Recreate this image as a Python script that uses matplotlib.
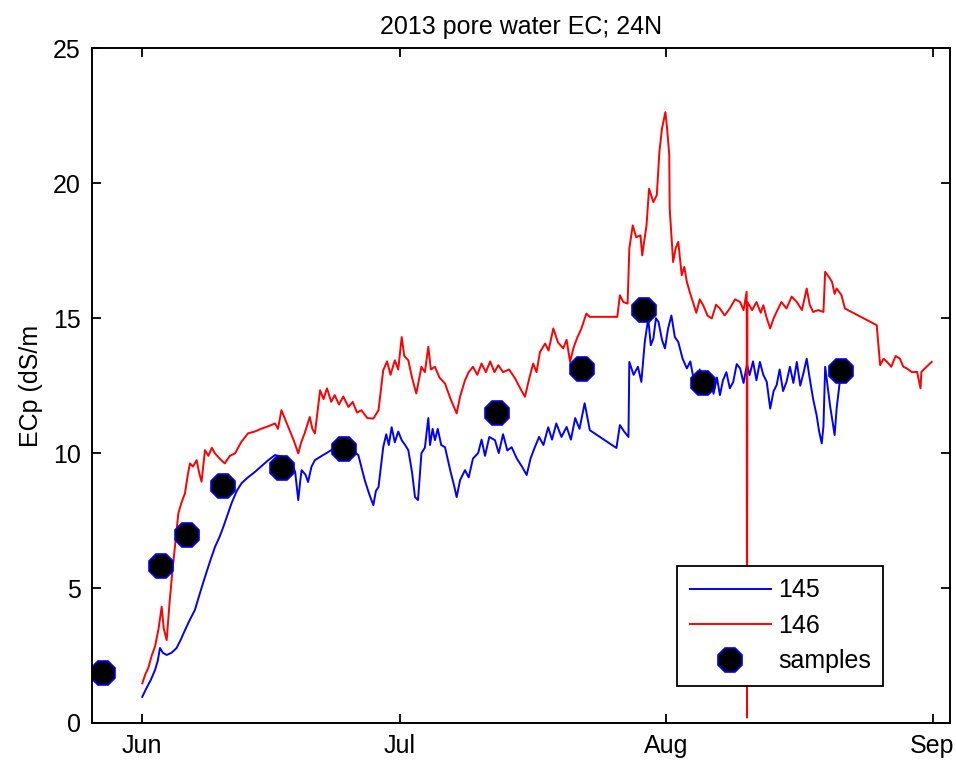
import numpy as np
import matplotlib
matplotlib.use("Agg")
import matplotlib.pyplot as plt

# ---- data (days after 2013-06-01, EC in dS/m) ----
days_145 = [0.0, 0.5, 1.0, 1.48, 1.8, 2.06, 2.4, 2.84, 3.4, 4.0, 4.5, 4.97, 5.5, 6.13, 6.7, 7.3, 7.9, 8.46,
            9.0, 9.43, 10.4, 11.0, 11.57, 12.3, 13.1, 14.0, 14.67, 15.45, 16.5, 17.4, 17.8, 18.16, 18.4, 18.55,
            19.0, 19.3, 19.7, 20.1, 20.9, 21.65, 22.4, 23.2, 24.2, 25.15, 25.5, 25.9, 26.4, 26.9, 27.2, 27.5,
            28.05, 28.4, 28.7, 29.03, 29.4, 29.8, 30.2, 30.6, 30.97, 31.4, 31.75, 32.1, 32.5, 32.9, 33.3, 33.5,
            33.8, 34.07, 34.4, 34.8, 35.24, 35.9, 36.3, 36.6, 37.0, 37.57, 38.0, 38.5, 39.1, 39.5, 39.9, 40.4,
            41.06, 41.5, 42.0, 42.5, 43.0, 43.6, 44.2, 44.75, 45.2, 45.7, 46.2, 46.7, 47.26, 47.7, 48.2, 48.8,
            49.4, 49.9, 50.4, 50.9, 51.5, 52.1, 55.2, 55.6, 56.1, 56.6, 56.7, 57.2, 57.7, 58.1, 58.5, 58.9,
            59.2, 59.5, 59.8, 60.1, 60.5, 60.85, 61.2, 61.6, 62.0, 62.4, 62.9, 63.4, 63.8, 64.1, 64.5, 64.9,
            65.3, 65.7, 66.1, 66.5, 66.9, 67.25, 67.6, 68.0, 68.4, 68.8, 69.2, 69.6, 70.0, 70.4, 70.7, 71.1,
            71.5, 71.9, 72.3, 72.7, 73.1, 73.5, 73.85, 74.2, 74.6, 75.0, 75.4, 75.8, 76.2, 76.6, 77.0, 77.35,
            77.7, 78.1, 78.5, 78.8, 79.1, 79.3, 79.5, 80.06, 80.6, 80.84, 81.2, 81.3]
ec_145 = [0.97, 1.3, 1.6, 1.96, 2.3, 2.78, 2.6, 2.52, 2.6, 2.78, 3.1, 3.44, 3.8, 4.19, 4.8, 5.41, 6.0, 6.52,
          6.9, 7.26, 8.15, 8.6, 8.89, 9.1, 9.3, 9.55, 9.74, 9.93, 9.85, 9.63, 9.3, 8.26, 9.0, 9.37,
          9.2, 8.93, 9.5, 9.74, 9.9, 10.04, 10.2, 10.3, 10.15, 9.93, 9.5, 9.0, 8.5, 8.07, 8.6, 8.74,
          10.22, 10.7, 10.3, 10.96, 10.4, 10.8, 10.48, 10.3, 10.11, 9.3, 8.37, 8.26, 10.0, 10.2, 11.3, 10.3,
          10.9, 10.48, 10.9, 10.3, 10.22, 9.3, 8.8, 8.37, 9.0, 9.37, 9.1, 9.8, 10.0, 10.5, 9.9, 10.6,
          10.48, 10.0, 10.7, 10.1, 10.22, 9.8, 9.5, 9.19, 9.8, 10.22, 10.6, 10.3, 10.96, 10.5, 11.1, 10.6,
          10.97, 10.5, 11.3, 10.9, 11.85, 10.85, 10.19, 11.04, 10.8, 10.6, 13.38, 12.9, 13.2, 12.64, 14.12, 14.99,
          14.0, 14.25, 15.0, 14.86, 14.2, 13.88, 14.6, 15.1, 14.3, 14.12, 13.5, 13.14, 13.4, 12.89, 12.4, 13.1,
          12.5, 12.4, 12.9, 12.2, 12.8, 12.15, 12.7, 13.0, 12.4, 12.64, 13.3, 13.14, 12.6, 13.3, 12.89, 13.4,
          12.7, 13.38, 12.9, 12.64, 11.65, 12.3, 12.52, 13.1, 12.3, 12.64, 13.2, 12.6, 13.38, 12.5, 13.0, 13.5,
          12.77, 12.0, 11.41, 10.8, 10.36, 11.0, 13.2, 11.78, 10.67, 11.67, 12.64, 13.0]

days_146 = [0.0, 0.35, 0.7, 1.1, 1.48, 1.9, 2.26, 2.5, 2.84, 3.2, 3.5, 3.8, 4.2, 4.6, 4.97, 5.3, 5.55, 5.9,
            6.33, 6.6, 6.9, 7.3, 7.7, 8.1, 8.46, 9.0, 9.6, 10.2, 10.8, 11.5, 12.3, 13.1, 13.9, 14.7, 15.45,
            15.8, 16.2, 17.0, 17.6, 18.16, 18.5, 18.9, 19.5, 19.8, 20.1, 20.7, 21.1, 21.5, 22.0, 22.4, 22.9,
            23.4, 24.0, 24.5, 25.0, 25.5, 26.2, 26.9, 27.5, 28.05, 28.5, 28.9, 29.4, 29.8, 30.2, 30.5, 30.97,
            31.4, 31.9, 32.2, 32.5, 32.9, 33.3, 33.6, 34.07, 34.6, 35.24, 35.9, 36.6, 37.0, 37.57, 38.0, 38.5,
            39.0, 39.5, 40.0, 40.5, 41.0, 41.45, 42.0, 42.7, 43.4, 44.0, 44.55, 45.0, 45.5, 45.9, 46.3, 46.9,
            47.3, 47.85, 48.4, 49.0, 49.4, 49.8, 50.2, 50.6, 51.1, 51.7, 52.1, 55.3, 55.6, 56.0, 56.5, 56.7,
            57.1, 57.5, 58.0, 58.2, 58.7, 59.0, 59.5, 59.9, 60.2, 60.5, 60.9, 61.1, 61.35, 61.4, 61.8, 62.1,
            62.4, 62.8, 63.1, 63.4, 63.8, 64.1, 64.5, 64.9, 65.3, 65.8, 66.3, 66.8, 67.25, 67.8, 68.4, 69.0,
            69.6, 70.0, 70.36, 70.4, 70.45, 71.0, 71.5, 72.0, 72.3, 72.7, 73.1, 73.5, 73.85, 74.4, 75.0, 75.6,
            76.2, 76.8, 77.35, 77.7, 78.1, 78.7, 79.3, 79.5, 80.0, 80.3, 80.6, 80.84, 81.4, 81.8, 85.5, 85.9,
            86.3, 86.7, 87.2, 87.7, 88.2, 88.6, 89.0, 89.6, 90.2, 90.6, 90.7, 91.3, 91.9]
ec_146 = [1.47, 1.8, 2.04, 2.5, 2.83, 3.5, 4.31, 3.5, 3.07, 4.56, 5.6, 6.53, 7.77, 8.2, 8.51, 9.2, 9.62, 9.5,
          9.74, 9.3, 8.94, 10.11, 9.9, 10.2, 9.99, 9.8, 9.62, 9.9, 9.99, 10.4, 10.73, 10.8, 10.91, 11.0, 11.1,
          10.9, 11.59, 10.97, 10.5, 9.99, 10.4, 10.73, 11.34, 10.9, 10.73, 12.33, 12.0, 12.4, 11.9, 12.15, 11.8,
          12.1, 11.71, 11.9, 11.5, 11.59, 11.3, 11.28, 11.59, 13.07, 13.4, 12.9, 13.44, 13.1, 14.3, 13.6, 13.44,
          12.8, 12.21, 12.7, 13.2, 13.0, 13.94, 13.1, 13.2, 12.8, 12.58, 12.0, 11.47, 12.1, 12.7, 13.0, 13.2,
          12.9, 13.32, 13.0, 13.4, 13.0, 13.26, 13.0, 13.1, 12.77, 12.4, 12.09, 12.7, 13.32, 13.0, 13.75, 14.06,
          13.8, 14.62, 14.1, 13.88, 14.2, 13.38, 13.9, 14.25, 14.6, 15.17, 15.05, 15.05, 15.85, 15.6, 15.54, 17.58,
          18.44, 18.0, 18.07, 17.33, 18.44, 19.8, 19.3, 19.56, 21.16, 22.02, 22.64, 22.02, 21.04, 19.06, 17.08, 17.6,
          17.83, 16.59, 16.9, 16.34, 15.9, 15.6, 15.2, 15.7, 15.48, 15.1, 14.99, 15.5, 15.36, 15.1, 15.36, 15.7,
          15.6, 15.3, 15.98, 0.2, 15.6, 15.3, 15.6, 15.2, 15.48, 15.0, 14.62, 15.0, 15.23, 15.6, 15.36, 15.8,
          15.6, 15.3, 16.1, 15.5, 15.23, 15.3, 15.23, 16.72, 16.5, 16.34, 15.9, 16.1, 15.85, 15.36, 14.74, 13.26,
          13.5, 13.38, 13.2, 13.6, 13.5, 13.2, 13.14, 13.0, 13.01, 12.4, 13.01, 13.2, 13.38]

days_samples = [-4.6, 2.2, 5.2, 9.4, 16.3, 23.5, 41.3, 51.2, 58.4, 65.3, 81.4]
ec_samples = [1.85, 5.8, 6.96, 8.78, 9.44, 10.15, 11.5, 13.1, 15.3, 12.6, 13.04]

month_ticks = ["2013-06-01", "2013-07-01", "2013-08-01", "2013-09-01"]
month_labels = ["Jun", "Jul", "Aug", "Sep"]

base = np.datetime64("2013-06-01T00:00:00")


def to_dates(d):
    return base + (np.asarray(d) * 86400).round().astype("timedelta64[s]")


plt.rcParams["font.family"] = ["Liberation Sans", "DejaVu Sans"]
FS = 18

fig = plt.figure(figsize=(9.56, 7.6), dpi=100)
ax = fig.add_axes([0.0959, 0.0487, 0.8978, 0.8877])

ax.plot(to_dates(days_145), ec_145, color="#0000ff", lw=1.4, label="145")
ax.plot(to_dates(days_146), ec_146, color="#ff0000", lw=1.4, label="146")
ax.plot(to_dates(days_samples), ec_samples, linestyle="none", marker="8", ms=18,
        mfc="black", mec="#0000ff", mew=1.2, label="samples")

ax.set_xlim(to_dates([-5.89])[0], to_dates([94.03])[0])
ax.set_ylim(0, 25)
ax.set_yticks([0, 5, 10, 15, 20, 25])
ax.set_xticks([np.datetime64(t) for t in month_ticks])
ax.set_xticklabels(month_labels)

ax.tick_params(direction="in", length=6.5, width=1.3, top=True, right=True,
               labelsize=FS, colors="black")
ax.tick_params(axis="y", pad=8)
ax.tick_params(axis="x", pad=8)
for s in ax.spines.values():
    s.set_linewidth(1.4)
    s.set_color("black")

ax.set_title("2013 pore water EC; 24N", fontsize=FS, pad=10)
ax.set_ylabel("ECp (dS/m", fontsize=FS, labelpad=7)

leg = ax.legend(loc="lower left", bbox_to_anchor=(0.682, 0.055), fontsize=FS,
                frameon=True, fancybox=False, edgecolor="black", framealpha=1,
                handlelength=3.24, handletextpad=0.3, borderpad=0.5, labelspacing=0.46,
                borderaxespad=0)
leg.get_frame().set_linewidth(1.3)

fig.savefig("out.png", dpi=100)
